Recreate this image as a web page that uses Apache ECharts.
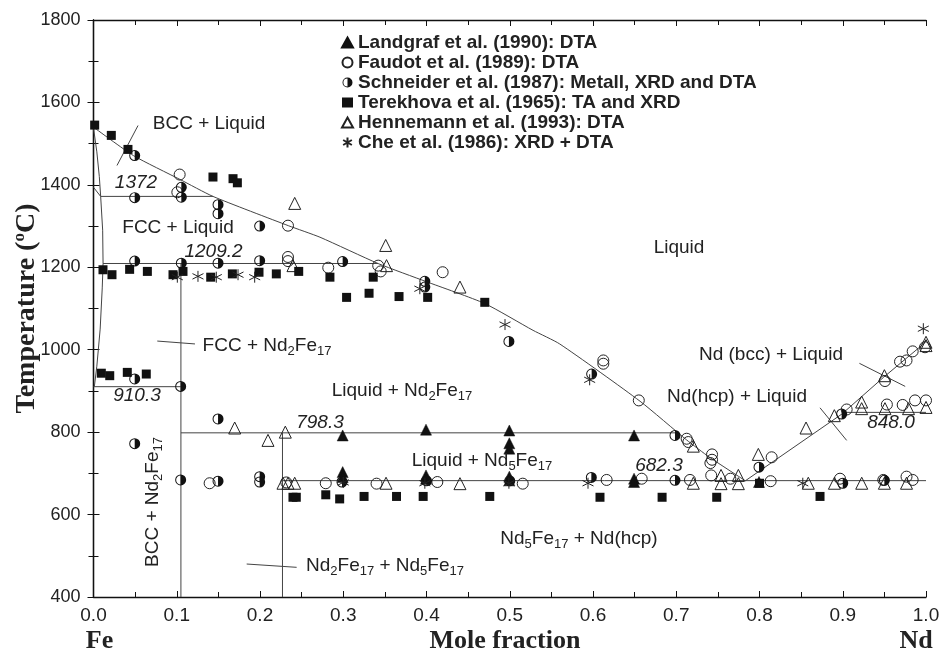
<!DOCTYPE html>
<html><head><meta charset="utf-8">
<script src="https://cdn.jsdelivr.net/npm/echarts@6/dist/echarts.min.js"></script>
<style>html,body{margin:0;padding:0;background:#fff}#c{width:941px;height:651px}</style>
</head><body><div id="c"></div>
<script>
// ---- tick labels ----
const xTicks = ['0.0','0.1','0.2','0.3','0.4','0.5','0.6','0.7','0.8','0.9','1.0'];
const yTicks = ['400','600','800','1000','1200','1400','1600','1800'];

// ---- phase boundary lines [x, T] ----
const liquidusFe = [[0,1540],[0.048,1471],[0.104,1413],[0.1435,1372],[0.234,1301],[0.272,1273],[0.342,1209],[0.4,1165],[0.47,1112],[0.528,1047],[0.56,1014],[0.6565,875],[0.7125,781],[0.74,739],[0.783,682]];
const liquidusNd = [[0.783,682],[0.899,844],[0.949,933],[0.997,1014],[1.0,1021]];
const feBoundary = [[0,1538],[0.004,1480],[0.007,1420],[0.0086,1372],[0.011,1290],[0.0115,1209],[0.0105,1150],[0.008,1050],[0.004,960],[0.001,910.3]];
const gammaEdge = [[0,1394],[0.0086,1372]];
const iso1372 = [[0.0086,1372],[0.1435,1372]];
const iso1209 = [[0.0115,1209.2],[0.342,1209.2]];
const iso910 = [[0,910.3],[0.105,910.3]];
const iso798 = [[0.105,798.3],[0.702,798.3]];
const iso682 = [[0.227,682.3],[1.0,682.3]];
const iso848 = [[0.899,848],[1.0,848]];
const nd2fe17 = [[0.105,1209.2],[0.105,400]];
const nd5fe17 = [[0.227,798.3],[0.227,400]];
const lead1 = [[0.0535,1544],[0.0282,1447]];
const lead2 = [[0.0766,1021],[0.1219,1014]];
const lead3 = [[0.184,480],[0.244,472]];
const lead4 = [[0.92,967],[0.975,911]];
const lead5 = [[0.8727,859],[0.9047,780]];

// ---- experimental data [x, T] ----
const landgraf = [[0.2993,792],[0.3994,806],[0.4995,804],[0.4995,773],[0.4995,760],[0.2993,703],[0.2993,691],[0.3994,695],[0.3994,687],[0.4995,692],[0.4995,683],[0.6493,792],[0.6493,687],[0.6493,679],[0.7994,679]];
const faudot = [[0.1035,1425],[0.1007,1382],[0.2336,1301],[0.2336,1225],[0.2336,1215],[0.282,1199],[0.342,1204],[0.345,1190],[0.4194,1188],[0.6124,974],[0.6124,966],[0.655,877],[0.7125,784],[0.7145,776],[0.743,746],[0.743,733],[0.741,725],[0.742,695],[0.6164,684],[0.6585,687],[0.7165,684],[0.765,687],[0.8134,681],[0.8146,739],[0.8967,687],[0.9047,855],[0.953,867],[0.972,866],[0.9868,877],[1.0,877],[0.9688,971],[0.9766,974],[0.984,996],[0.9507,924],[0.9988,1006],[0.9766,692],[0.984,684],[0.9487,684],[0.340,675],[0.413,679],[0.5156,675],[0.1395,676],[0.2316,678],[0.279,676]];
const schneider = [[0.0495,1471],[0.0495,1369],[0.1055,1394],[0.1055,1370],[0.1496,1352],[0.1496,1330],[0.1996,1300],[0.0495,1215],[0.1055,1210],[0.1496,1210],[0.1996,1216],[0.2993,1214],[0.398,1166],[0.398,1152],[0.499,1020],[0.0495,929],[0.1047,911],[0.1496,832],[0.0495,772],[0.1047,684],[0.1496,681],[0.1996,692],[0.1996,679],[0.2985,679],[0.4,682],[0.5,682],[0.5984,941],[0.598,690],[0.6985,792],[0.6985,683],[0.7994,715],[0.8987,844],[0.90,676],[0.95,683]];
const terekhova = [[0.0014,1545],[0.0214,1520],[0.0414,1486],[0.1435,1419],[0.1676,1415],[0.1728,1405],[0.0114,1194],[0.0222,1182],[0.0434,1195],[0.0647,1190],[0.0955,1182],[0.1075,1190],[0.1408,1176],[0.1668,1184],[0.1988,1188],[0.2196,1184],[0.2465,1190],[0.284,1176],[0.336,1176],[0.304,1127],[0.331,1137],[0.367,1129],[0.4014,1127],[0.470,1115],[0.0094,943],[0.0195,937],[0.0406,945],[0.0634,941],[0.2396,642],[0.2436,642],[0.279,648],[0.2957,638],[0.325,644],[0.364,644],[0.396,644],[0.476,644],[0.6084,642],[0.683,642],[0.7486,642],[0.8727,644],[0.8,676]];
const hennemann = [[0.2417,1355],[0.2396,1204],[0.351,1253],[0.352,1204],[0.4402,1152],[0.1696,810],[0.2096,780],[0.2304,800],[0.2276,676],[0.2336,676],[0.2417,676],[0.3514,676],[0.4402,675],[0.7205,766],[0.7205,676],[0.7538,695],[0.7538,675],[0.7746,695],[0.7746,675],[0.7986,746],[0.8559,810],[0.8899,840],[0.9227,873],[0.9227,857],[0.95,937],[0.9507,857],[0.979,857],[1.0,860],[1.0,1018],[1.0,1010],[0.8586,676],[0.89,676],[0.9228,676],[0.95,676],[0.9766,676]];
const che = [[0.1007,1176],[0.1255,1178],[0.1475,1176],[0.1736,1182],[0.1936,1176],[0.392,1148],[0.4943,1061],[0.596,927],[0.594,676],[0.3,678],[0.398,676],[0.499,676],[0.852,676],[0.9968,1051]];

const names = ['Landgraf et al. (1990): DTA','Faudot et al. (1989): DTA','Schneider et al. (1987): Metall, XRD and DTA','Terekhova et al. (1965): TA and XRD','Hennemann et al. (1993): DTA','Che et al. (1986): XRD + DTA'];

const HALF = 'path://M0,-10A10,10,0,1,1,0,10A10,10,0,1,1,0,-10Z M0,-8.2A8.2,8.2,0,0,0,0,8.2Z';
const STAR = 'path://M0,-10L0,10M-8.7,-5L8.7,5M-8.7,5L8.7,-5';

const chart = echarts.init(document.getElementById('c'), null, {renderer:'canvas'});
const lineStyle = {color:'#444', width:1};
function ln(d, sm){ return {type:'line', data:d, showSymbol:false, symbol:'none', smooth:sm||false, lineStyle:lineStyle, silent:true, z:2, animation:false, clip:false}; }
const phaseLines = [liquidusNd, feBoundary, gammaEdge, iso1372, iso1209, iso910, iso798, iso682, iso848, nd2fe17, nd5fe17, lead1, lead2, lead3, lead4, lead5];

const TXT = '#222';
const SANS = '"Liberation Sans", Arial, sans-serif';
const SERIF = '"Liberation Serif", "Times New Roman", serif';
const richSub = {
  m:{fontSize:19, fontFamily:SANS, color:TXT},
  s:{fontSize:13, fontFamily:SANS, color:TXT, padding:[11,0,0,0], lineHeight:13}
};
function lab(text, x, y, opts){
  opts = opts || {};
  return {type:'text', x:x, y:y, rotation:opts.rot||0, z:10, silent:true,
    style:{text:text, fill:TXT, font:(opts.italic?'italic ':'')+'19px '+SANS, align:'center', verticalAlign:'middle', rich:richSub}};
}

const axCommon = {
  axisLine:{show:true, lineStyle:{color:'#111', width:1.3}},
  axisTick:{show:true, inside:true, length:6, lineStyle:{color:'#111'}},
  minorTick:{show:true, splitNumber:2, length:5, lineStyle:{color:'#111'}},
  splitLine:{show:false}
};

const option = {
  animation:false,
  backgroundColor:'#fff',
  grid:{left:93.5, right:15, top:20, bottom:54, containLabel:false, outerBoundsMode:'none'},
  legend:{
    orient:'vertical', left:336, top:28, itemGap:1, itemWidth:11, itemHeight:10, itemTextGap:13,
    textStyle:{fontFamily:SANS, fontSize:19, fontWeight:'bold', color:TXT},
    data:names
  },
  xAxis:[
    Object.assign({type:'value', min:0, max:1, interval:0.1, position:'bottom',
     axisLabel:{formatter:(v)=>xTicks[Math.round(v*10)], fontFamily:SANS, fontSize:19, color:TXT, margin:9}}, axCommon),
    Object.assign({type:'value', min:0, max:1, interval:0.1, position:'top', axisLabel:{show:false}}, axCommon)
  ],
  yAxis:[
    Object.assign({type:'value', min:400, max:1800, interval:200, position:'left',
     axisLabel:{formatter:(v)=>yTicks[Math.round((v-400)/200)], fontFamily:SANS, fontSize:18, color:TXT, margin:13},
     name:'{m|Temperature (}{s|o}{m|C)}', nameLocation:'middle', nameGap:52, nameRotate:90, nameMoveOverlap:false,
     nameTextStyle:{rich:{m:{fontFamily:SERIF, fontWeight:'bold', fontSize:28, color:TXT}, s:{fontFamily:SERIF, fontWeight:'bold', fontSize:17, color:TXT, padding:[0,0,13,0]}}}}, axCommon),
    Object.assign({type:'value', min:400, max:1800, interval:200, position:'right', axisLabel:{show:false}}, axCommon)
  ],
  series: [ln(liquidusFe, 0.2)].concat(phaseLines.map(d=>ln(d))).concat([
    {name:names[0], type:'scatter', data:landgraf, symbol:'triangle', symbolSize:11, itemStyle:{color:'#111', borderColor:'#111', borderWidth:0.5, opacity:1}, z:5, clip:false},
    {name:names[1], type:'scatter', data:faudot, symbol:'circle', symbolSize:11, itemStyle:{color:'rgba(255,255,255,0)', borderColor:'#222', borderWidth:1, opacity:1}, z:4, clip:false},
    {name:names[2], type:'scatter', data:schneider, symbol:HALF, symbolSize:11, itemStyle:{color:'#111', opacity:1}, z:5, clip:false},
    {name:names[3], type:'scatter', data:terekhova, symbol:'rect', symbolSize:9, itemStyle:{color:'#111', opacity:1}, z:5, clip:false},
    {name:names[4], type:'scatter', data:hennemann, symbol:'triangle', symbolSize:12, itemStyle:{color:'rgba(255,255,255,0)', borderColor:'#222', borderWidth:1, opacity:1}, z:4, clip:false},
    {name:names[5], type:'scatter', data:che, symbol:STAR, symbolSize:11, itemStyle:{color:'#222', borderColor:'#222', borderWidth:1, opacity:1}, z:5, clip:false}
  ]),
  graphic:[
    lab('BCC + Liquid', 209, 124),
    lab('1372', 136, 183, {italic:true}),
    lab('FCC + Liquid', 178, 228),
    lab('1209.2', 213.5, 252, {italic:true}),
    lab('Liquid', 679, 248),
    lab('{m|FCC + Nd}{s|2}{m|Fe}{s|17}', 267, 346),
    lab('910.3', 137, 396, {italic:true}),
    lab('{m|Liquid + Nd}{s|2}{m|Fe}{s|17}', 402, 391),
    lab('798.3', 320, 423, {italic:true}),
    lab('{m|Liquid + Nd}{s|5}{m|Fe}{s|17}', 482, 461),
    lab('682.3', 659, 466, {italic:true}),
    lab('{m|Nd}{s|5}{m|Fe}{s|17}{m| + Nd(hcp)}', 579, 539),
    lab('{m|Nd}{s|2}{m|Fe}{s|17}{m| + Nd}{s|5}{m|Fe}{s|17}', 385, 566),
    lab('{m|BCC + Nd}{s|2}{m|Fe}{s|17}', 152.5, 502, {rot:Math.PI/2}),
    lab('Nd (bcc) + Liquid', 771, 355),
    lab('Nd(hcp) + Liquid', 737, 397),
    lab('848.0', 891, 423, {italic:true}),
    {type:'text', x:505, y:641, silent:true, style:{text:'Mole fraction', font:'bold 26px '+SERIF, fill:TXT, align:'center', verticalAlign:'middle'}},
    {type:'text', x:99.5, y:641, silent:true, style:{text:'Fe', font:'bold 26px '+SERIF, fill:TXT, align:'center', verticalAlign:'middle'}},
    {type:'text', x:916, y:641, silent:true, style:{text:'Nd', font:'bold 26px '+SERIF, fill:TXT, align:'center', verticalAlign:'middle'}}
  ]
};
chart.setOption(option);
</script>
</body></html>
